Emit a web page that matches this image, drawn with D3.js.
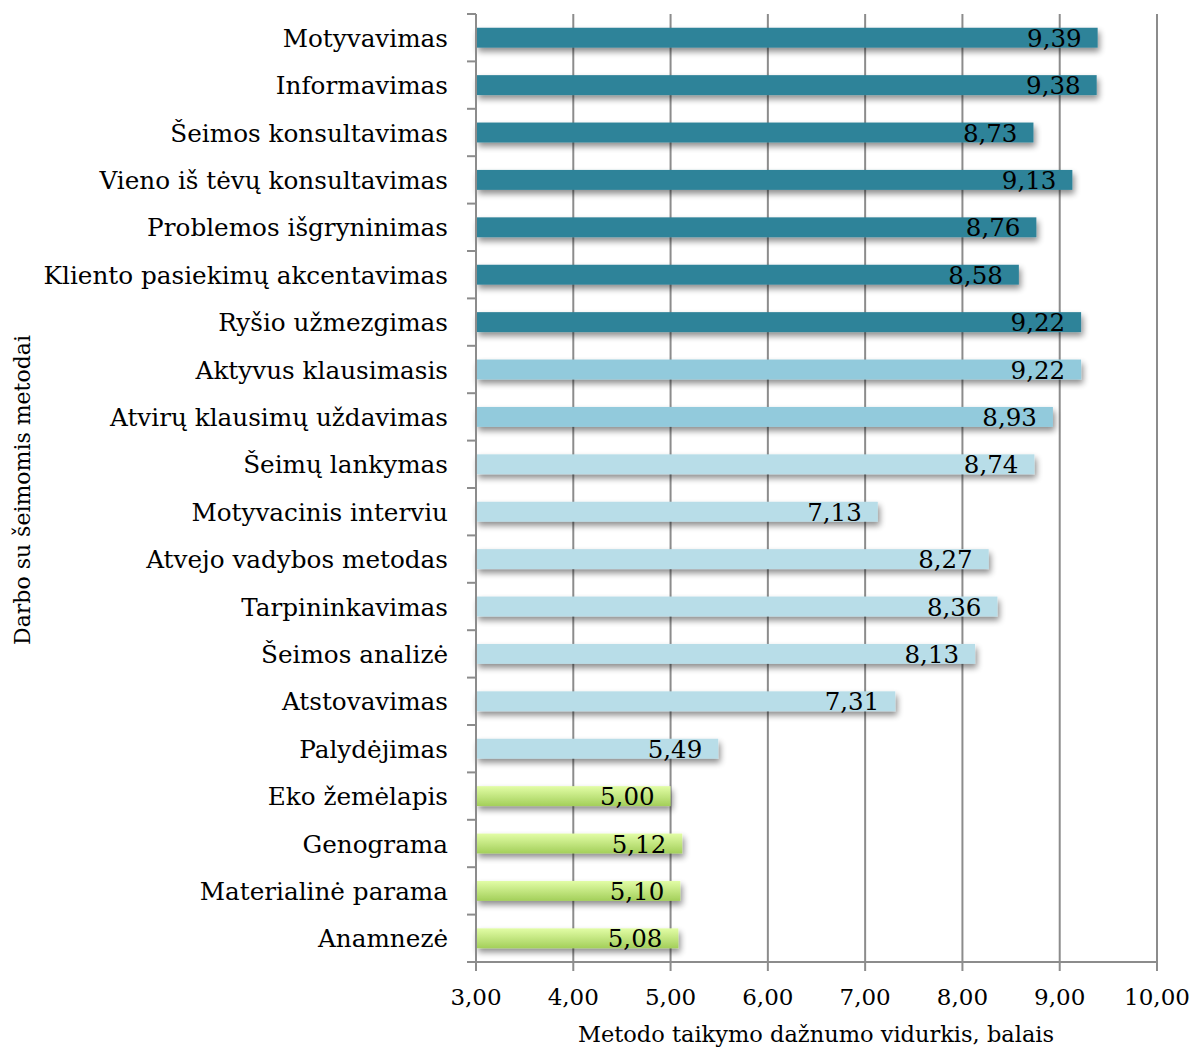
<!DOCTYPE html>
<html><head><meta charset="utf-8">
<script src="https://cdn.jsdelivr.net/npm/d3@7"></script>
<style>
html,body{margin:0;padding:0;background:#fff;}
svg text{font-family:"DejaVu Serif","Liberation Serif",serif;fill:#000;}
</style></head>
<body><svg id="c" width="1193" height="1048"></svg>
<script>
const categories = ["Motyvavimas","Informavimas","Šeimos konsultavimas","Vieno iš tėvų konsultavimas","Problemos išgryninimas","Kliento pasiekimų akcentavimas","Ryšio užmezgimas","Aktyvus klausimasis","Atvirų klausimų uždavimas","Šeimų lankymas","Motyvacinis interviu","Atvejo vadybos metodas","Tarpininkavimas","Šeimos analizė","Atstovavimas","Palydėjimas","Eko žemėlapis","Genograma","Materialinė parama","Anamnezė"];
const values = [9.39,9.38,8.73,9.13,8.76,8.58,9.22,9.22,8.93,8.74,7.13,8.27,8.36,8.13,7.31,5.49,5.00,5.12,5.10,5.08];
const groups = ["dark","dark","dark","dark","dark","dark","dark","mid","mid","light","light","light","light","light","light","light","green","green","green","green"];
const xTicks = [3,4,5,6,7,8,9,10];
const xTitle = "Metodo taikymo dažnumo vidurkis, balais";
const yTitle = "Darbo su šeimomis metodai";

const svg = d3.select("#c");
const x = d3.scaleLinear().domain([3,10]).range([476,1157]);
const y = d3.scaleBand().domain(categories).range([14,962]).paddingInner(0.58).paddingOuter(0.29);
const fmt = v => v.toFixed(2).replace(".", ",");

const defs = svg.append("defs");
const g = defs.append("linearGradient").attr("id","gr").attr("x1",0).attr("y1",0).attr("x2",0).attr("y2",1);
g.append("stop").attr("offset","0%").attr("stop-color","#e2fda6");
g.append("stop").attr("offset","100%").attr("stop-color","#a3cf5a");
const f = defs.append("filter").attr("id","sh").attr("x","-5%").attr("y","-50%").attr("width","115%").attr("height","250%");
f.append("feGaussianBlur").attr("in","SourceAlpha").attr("stdDeviation",3);
f.append("feOffset").attr("dx",2).attr("dy",4).attr("result","b");
f.append("feComponentTransfer").append("feFuncA").attr("type","linear").attr("slope",0.45);
const m = f.append("feMerge"); m.append("feMergeNode"); m.append("feMergeNode").attr("in","SourceGraphic");

const fills = {dark:"#2f8399", mid:"#92cadc", light:"#b8dde8", green:"url(#gr)"};

// gridlines
svg.append("g").selectAll("line").data(xTicks.slice(1)).join("line")
  .attr("x1",d=>x(d)).attr("x2",d=>x(d)).attr("y1",14).attr("y2",962)
  .attr("stroke","#8c8c8c").attr("stroke-width",2);

// bars
svg.append("g").selectAll("rect").data(categories).join("rect")
  .attr("x",x(3)).attr("y",d=>y(d)).attr("width",(d,i)=>x(values[i])-x(3))
  .attr("height",y.bandwidth()).attr("fill",(d,i)=>fills[groups[i]]).attr("filter","url(#sh)");

// value labels
svg.append("g").selectAll("text").data(categories).join("text")
  .attr("x",(d,i)=>x(values[i])-16).attr("y",d=>y(d)+y.bandwidth()/2+9)
  .attr("text-anchor","end").attr("font-size",24.5).text((d,i)=>fmt(values[i]));

// y axis
const ya = svg.append("g").attr("transform","translate(476,0)");
ya.append("line").attr("x1",0).attr("x2",0).attr("y1",14).attr("y2",962).attr("stroke","#8c8c8c").attr("stroke-width",2);
const bounds = d3.range(categories.length+1).map(i=>14+i*(948/categories.length));
ya.selectAll("line.t").data(bounds).join("line").attr("class","t")
  .attr("x1",-9).attr("x2",0).attr("y1",d=>d).attr("y2",d=>d).attr("stroke","#8c8c8c").attr("stroke-width",2);
svg.append("g").selectAll("text").data(categories).join("text")
  .attr("x",448).attr("y",d=>y(d)+y.bandwidth()/2+9).attr("text-anchor","end")
  .attr("font-size",24.7).text(d=>d);

// x axis
const xa = svg.append("g").attr("transform","translate(0,962)");
xa.append("line").attr("x1",476).attr("x2",1157).attr("stroke","#8c8c8c").attr("stroke-width",2);
xa.selectAll("line.t").data(xTicks).join("line").attr("class","t")
  .attr("x1",d=>x(d)).attr("x2",d=>x(d)).attr("y1",0).attr("y2",9).attr("stroke","#8c8c8c").attr("stroke-width",2);
xa.selectAll("text").data(xTicks).join("text")
  .attr("x",d=>x(d)).attr("y",43).attr("text-anchor","middle").attr("font-size",23).text(d=>fmt(d));

svg.append("text").attr("x",816).attr("y",1042).attr("text-anchor","middle").attr("font-size",22.5).text(xTitle);
svg.append("text").attr("transform","translate(30,490) rotate(-90)").attr("text-anchor","middle").attr("font-size",22).text(yTitle);
</script></body></html>
